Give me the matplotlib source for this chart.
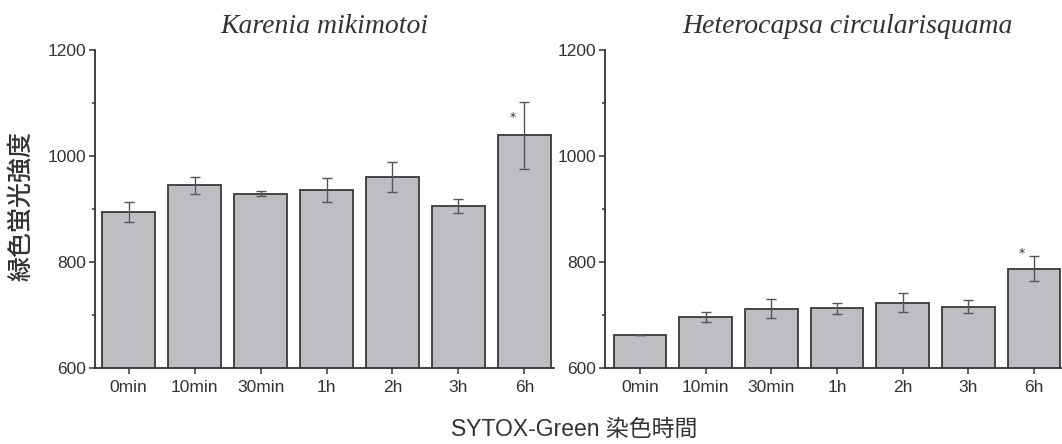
import matplotlib
matplotlib.use('Agg')
import matplotlib.pyplot as plt
import numpy as np
from matplotlib.ticker import MultipleLocator

# staining times
labels = ['0min', '10min', '30min', '1h', '2h', '3h', '6h']

# Karenia mikimotoi
km_mean = [894, 945, 929, 936, 960, 906, 1039]
km_err = [19, 16, 5, 22, 28, 13, 63]
km_star = 1072

# Heterocapsa circularisquama
hc_mean = [663, 697, 712, 713, 724, 716, 788]
hc_err = [0, 9, 18, 11, 18, 12, 23]
hc_star = 816

titles = ['Karenia mikimotoi', 'Heterocapsa circularisquama']
ylabel = '緑色蛍光強度'
xlabel = 'SYTOX-Green 染色時間'

tickfont = ['Liberation Sans', 'DejaVu Sans']
cjkfont = ['Noto Sans CJK JP', 'DejaVu Sans']
dark = '#333333'

fig = plt.figure(figsize=(10.62, 4.44), dpi=100)
ax1 = fig.add_axes([0.0895, 0.1705, 0.4322, 0.717])
ax2 = fig.add_axes([0.5697, 0.1705, 0.4300, 0.717])

panels = [(ax1, km_mean, km_err, km_star, (-0.51, 6.45), 0.5),
          (ax2, hc_mean, hc_err, hc_star, (-0.53, 6.42), 0.53)]

x = np.arange(len(labels))
for j, (ax, mean, err, star, xl, tx) in enumerate(panels):
    ax.bar(x, mean, width=0.8, color='#bdbec2', edgecolor='#3a3a3a', linewidth=1.3, zorder=2)
    ax.errorbar(x, mean, yerr=err, fmt='none', ecolor='#555555', elinewidth=1.0,
                capsize=3.5, capthick=1.0, zorder=3)
    ax.text(x[-1] - 0.18, star, '*', ha='center', va='center', fontsize=9, color=dark)
    ax.set_ylim(600, 1200)
    ax.set_xlim(*xl)
    ax.yaxis.set_major_locator(MultipleLocator(200))
    ax.yaxis.set_minor_locator(MultipleLocator(100))
    ax.set_xticks(x)
    ax.set_xticklabels(labels)
    for s in ['top', 'right']:
        ax.spines[s].set_visible(False)
    for s in ['left', 'bottom']:
        ax.spines[s].set_color(dark)
        ax.spines[s].set_linewidth(1.3)
    ax.tick_params(which='major', length=4.5, width=1.1, color=dark, labelcolor=dark, pad=2)
    ax.tick_params(which='minor', length=2.5, width=1.1, color=dark)
    ax.tick_params(axis='x', pad=4)
    for t in ax.get_xticklabels() + ax.get_yticklabels():
        t.set_family(tickfont)
        t.set_fontsize(12.5)
    ax.set_title(titles[j], family=['Liberation Serif'], style='italic', fontsize=20,
                 color=dark, pad=12, x=tx)

fig.text(0.02, 0.535, ylabel, rotation=90, ha='center', va='center',
         family=cjkfont, fontsize=18, fontweight='medium', color=dark)
fig.text(0.541, 0.032, xlabel, ha='center', va='center',
         family=['Liberation Sans'] + cjkfont, fontsize=16.5, color=dark)

plt.savefig('out.png', dpi=100)
